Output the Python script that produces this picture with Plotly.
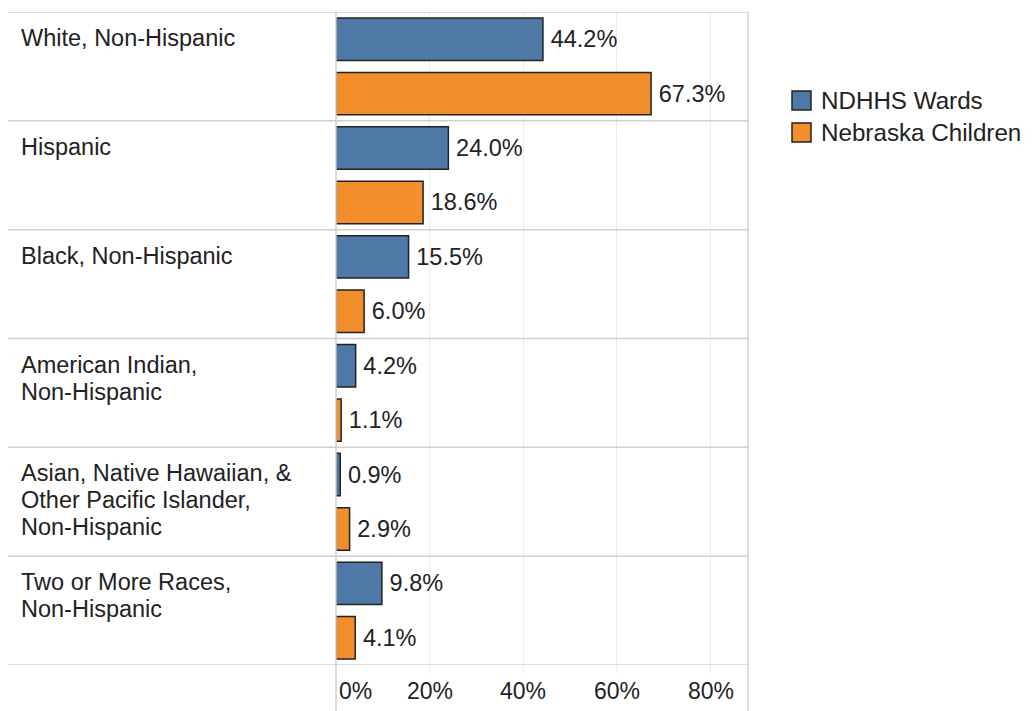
import plotly.graph_objects as go

categories = [
    "White, Non-Hispanic",
    "Hispanic",
    "Black, Non-Hispanic",
    "American Indian,<br>Non-Hispanic",
    "Asian, Native Hawaiian, &<br>Other Pacific Islander,<br>Non-Hispanic",
    "Two or More Races,<br>Non-Hispanic",
]
series_names = ["NDHHS Wards", "Nebraska Children"]
ndhhs_wards = [44.2, 24.0, 15.5, 4.2, 0.9, 9.8]
nebraska_children = [67.3, 18.6, 6.0, 1.1, 2.9, 4.1]
tick_values = [0, 20, 40, 60, 80]
tick_labels = ["0%", "20%", "40%", "60%", "80%"]

colors = ["#4e79a7", "#f28e2b"]
FONT = "Liberation Sans, Arial, sans-serif"
FS = 23.5
TXT = "#222222"
LINE = "#cfcfcf"

# page offset (body margin) and plot area in screenshot pixels
OX, OY = 8, 8
W, H = 1026, 703
X0, X1, Y0, Y1 = 336, 748, 12, 665
L, T = X0 - OX, Y0 - OY
R, B = W - (X1 - OX), H - (Y1 - OY)
PW, PH = W - L - R, H - T - B


def px(x):
    return (x - X0) / PW


def py(y):
    return (Y1 - y) / PH


idx = list(range(len(categories)))
fig = go.Figure()
for name, vals, col in zip(series_names, [ndhhs_wards, nebraska_children], colors):
    fig.add_trace(go.Bar(
        y=idx, x=vals, orientation="h", name=name,
        marker=dict(color=col, line=dict(color="#222222", width=1.5)),
        text=[f"\u2009{v:.1f}%" for v in vals], textposition="outside",
        textfont=dict(family=FONT, size=FS, color=TXT),
        constraintext="none", cliponaxis=False, showlegend=False,
    ))

shapes = []
# row separators
for i in range(len(categories) + 1):
    shapes.append(dict(type="line", xref="paper", yref="y", x0=px(8), x1=1,
                       y0=i - 0.5, y1=i - 0.5, line=dict(color=LINE, width=1.5)))
# zero line and right border extending into axis area
for xx in [0, 1]:
    shapes.append(dict(type="line", xref="paper", yref="paper", x0=xx, x1=xx,
                       y0=1, y1=py(711), line=dict(color=LINE, width=1.5)))
# gridline stubs into axis area
for tv in tick_values[1:]:
    shapes.append(dict(type="line", xref="x", yref="paper", x0=tv, x1=tv,
                       y0=0, y1=py(673), line=dict(color="#ebebeb", width=1)))

annotations = []
for i, c in enumerate(categories):
    for j, line in enumerate(c.split("<br>")):
        annotations.append(dict(text=line, xref="paper", yref="y", x=px(19), y=i - 0.5,
                                xanchor="left", yanchor="middle", align="left",
                                yshift=-(26 + 27 * j),
                                showarrow=False, font=dict(family=FONT, size=FS, color=TXT)))
for tv, tl in zip(tick_values, tick_labels):
    annotations.append(dict(text=tl, xref="x", yref="paper", x=tv, y=py(691),
                            xanchor="left" if tv == 0 else "center", yanchor="middle",
                            xshift=1 if tv == 0 else 0,
                            showarrow=False, font=dict(family=FONT, size=23, color=TXT)))

# manual legend
for k, (name, col) in enumerate(zip(series_names, colors)):
    top = 91 + k * 32
    shapes.append(dict(type="rect", xref="paper", yref="paper",
                       x0=px(792), x1=px(811), y0=py(top), y1=py(top + 19),
                       fillcolor=col, line=dict(color="#222222", width=1.5)))
    annotations.append(dict(text=name, xref="paper", yref="paper", x=px(819), y=py(top + 9.5),
                            xanchor="left", yanchor="middle", showarrow=False,
                            font=dict(family=FONT, size=24.2, color=TXT)))

fig.update_layout(
    width=W, height=H,
    margin=dict(l=L, r=R, t=T, b=B, pad=0),
    paper_bgcolor="white", plot_bgcolor="rgba(0,0,0,0)",
    barmode="group", bargap=0.0, bargroupgap=0.22,
    showlegend=False,
    xaxis=dict(range=[0, 88], tickvals=tick_values, showticklabels=False,
               showgrid=True, gridcolor="#ebebeb", gridwidth=1, zeroline=False,
               showline=False, fixedrange=True),
    yaxis=dict(range=[len(categories) - 0.5, -0.5], showticklabels=False,
               showgrid=False, zeroline=False, showline=False, fixedrange=True),
    shapes=shapes, annotations=annotations,
    font=dict(family=FONT, size=FS, color=TXT),
)

fig.write_html("out.html")
